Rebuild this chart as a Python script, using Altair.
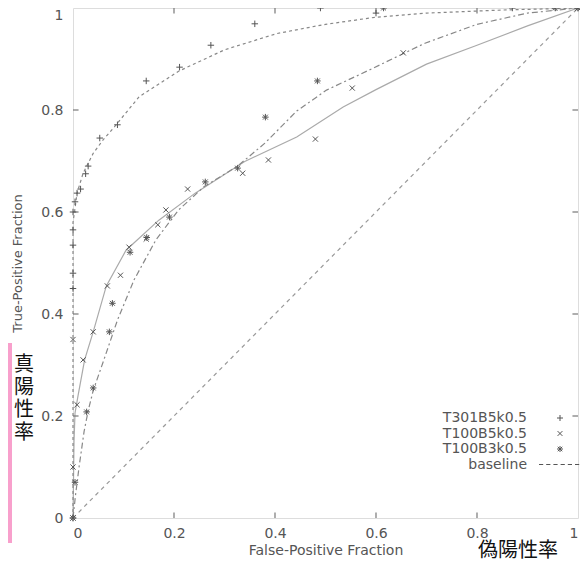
import altair as alt
import pandas as pd

# ---- data ----
plus_x = [0, 0, 0, 0, 0, 0, 0.004, 0.008, 0.015, 0.025, 0.03, 0.053, 0.088, 0.145, 0.211, 0.273, 0.36, 0.49, 0.6, 0.87, 1.0]
plus_y = [0, 0.45, 0.48, 0.535, 0.565, 0.60, 0.62, 0.637, 0.645, 0.675, 0.69, 0.745, 0.771, 0.857, 0.884, 0.927, 0.969, 1.0, 0.99, 1.0, 1.0]

cross_x = [0, 0, 0, 0.008, 0.02, 0.04, 0.068, 0.094, 0.111, 0.145, 0.168, 0.184, 0.227, 0.336, 0.387, 0.48, 0.553, 0.654, 1.0]
cross_y = [0, 0.1, 0.35, 0.222, 0.31, 0.365, 0.455, 0.476, 0.531, 0.547, 0.575, 0.604, 0.645, 0.676, 0.702, 0.743, 0.843, 0.912, 1.0]

star_x = [0, 0.004, 0.027, 0.04, 0.072, 0.078, 0.113, 0.146, 0.191, 0.262, 0.326, 0.381, 0.484, 0.615, 0.955, 1.0]
star_y = [0, 0.07, 0.208, 0.255, 0.365, 0.421, 0.521, 0.55, 0.59, 0.659, 0.686, 0.786, 0.857, 1.0, 1.0, 1.0]

fit1_x = [0, 0, 0.003, 0.008, 0.02, 0.04, 0.06, 0.082, 0.131, 0.209, 0.3, 0.404, 0.5, 0.6, 0.7, 0.85, 1.0]
fit1_y = [0, 0.58, 0.60, 0.637, 0.676, 0.715, 0.742, 0.767, 0.826, 0.876, 0.918, 0.95, 0.968, 0.982, 0.99, 0.996, 1.0]

fit2_x = [0, 0.002, 0.004, 0.01, 0.023, 0.04, 0.066, 0.105, 0.17, 0.242, 0.34, 0.443, 0.535, 0.6, 0.7, 0.8, 0.9, 1.0]
fit2_y = [0, 0.15, 0.206, 0.24, 0.31, 0.365, 0.455, 0.525, 0.584, 0.637, 0.699, 0.747, 0.806, 0.84, 0.89, 0.927, 0.965, 1.0]

fit3_x = [0, 0.005, 0.012, 0.022, 0.03, 0.04, 0.059, 0.088, 0.121, 0.164, 0.209, 0.26, 0.326, 0.38, 0.443, 0.502, 0.59, 0.697, 0.8, 0.9, 1.0]
fit3_y = [0, 0.045, 0.1, 0.17, 0.21, 0.25, 0.304, 0.388, 0.467, 0.545, 0.604, 0.65, 0.69, 0.735, 0.798, 0.839, 0.88, 0.931, 0.968, 0.99, 1.0]

base_x = [0, 1]
base_y = [0, 1]

series_names = ["T301B5k0.5", "T100B5k0.5", "T100B3k0.5", "baseline"]
tick_values = [0, 0.2, 0.4, 0.6, 0.8, 1]
inner_ticks = [0.2, 0.4, 0.6, 0.8]

# ---- styling ----
FONT = "DejaVu Sans"
TXT = "#555555"
PLUS = "M-1,0H1M0,-1V1"
CROSS = "M-0.8,-0.8L0.8,0.8M-0.8,0.8L0.8,-0.8"
STAR = "M-1,0H1M0,-1V1M-0.75,-0.75L0.75,0.75M-0.75,0.75L0.75,-0.75"
DASHLINE = "M-7,0H-5.6M-4.6,0H-3.2M-2.2,0H-0.8M0.2,0H1.6M2.6,0H4M5,0H6.4"

SC = alt.Scale(domain=[0, 1], nice=False, zero=False)
label_expr = "datum.value == 0 ? '0' : datum.value == 1 ? '1' : format(datum.value, '.1f')"
AX_X = alt.Axis(title="False-Positive Fraction", values=tick_values, labelExpr=label_expr,
                grid=False, ticks=False, domain=False, labelPadding=8, titlePadding=3,
                labelFont=FONT, labelFontSize=14, labelColor=TXT,
                titleFont=FONT, titleFontSize=14, titleColor=TXT, titleFontWeight="normal")
AX_Y = alt.Axis(title="True-Positive Fraction", values=tick_values, labelExpr=label_expr,
                grid=False, ticks=False, domain=False, labelPadding=10, titlePadding=16,
                labelOffset=alt.condition("datum.value == 1", alt.value(7), alt.value(0)),
                labelFont=FONT, labelFontSize=14, labelColor=TXT,
                titleFont=FONT, titleFontSize=13, titleColor=TXT, titleFontWeight="normal")


def X(f="x"):
    return alt.X(f"{f}:Q", scale=SC, axis=AX_X)


def Y(f="y"):
    return alt.Y(f"{f}:Q", scale=SC, axis=AX_Y)


def line_df(xs, ys):
    return pd.DataFrame({"x": xs, "y": ys, "i": list(range(len(xs)))})


pts = pd.concat([
    pd.DataFrame({"x": plus_x, "y": plus_y, "series": series_names[0]}),
    pd.DataFrame({"x": cross_x, "y": cross_y, "series": series_names[1]}),
    pd.DataFrame({"x": star_x, "y": star_y, "series": series_names[2]}),
], ignore_index=True)

points = alt.Chart(pts).mark_point(filled=False, size=42, strokeWidth=1, color="#555555", opacity=1).encode(
    x=X(), y=Y(),
    shape=alt.Shape("series:N",
                    scale=alt.Scale(domain=series_names, range=[PLUS, CROSS, STAR, DASHLINE]),
                    legend=alt.Legend(title=None, orient="none", legendX=480, legendY=403,
                                      labelAlign="right", labelOffset=alt.expr("-40"), labelFont=FONT,
                                      labelFontSize=14, labelColor=TXT, symbolSize=36,
                                      symbolStrokeWidth=1, symbolStrokeColor="#555555",
                                      symbolFillColor="transparent", padding=0, rowPadding=1.5)),
)

fit1 = alt.Chart(line_df(fit1_x, fit1_y)).mark_line(color="#888888", strokeWidth=1.2, strokeDash=[3, 3]).encode(
    x=X(), y=Y(), order="i:Q")
fit2 = alt.Chart(line_df(fit2_x, fit2_y)).mark_line(color="#aaaaaa", strokeWidth=1.2).encode(
    x=X(), y=Y(), order="i:Q")
fit3 = alt.Chart(line_df(fit3_x, fit3_y)).mark_line(color="#888888", strokeWidth=1.2, strokeDash=[6, 3, 2, 3]).encode(
    x=X(), y=Y(), order="i:Q")
base = alt.Chart(line_df(base_x, base_y)).mark_line(color="#999999", strokeWidth=1.2, strokeDash=[4, 4]).encode(
    x=X(), y=Y(), order="i:Q")

tk = pd.DataFrame({"v": inner_ticks})
tick_len = 0.011
bottom_t = alt.Chart(tk).transform_calculate(y="0", y2=str(tick_len)).mark_rule(color="#777777", strokeWidth=1.2).encode(
    x=alt.X("v:Q", scale=SC, axis=AX_X), y=Y(), y2="y2:Q")
top_t = alt.Chart(tk).transform_calculate(y="1", y2=str(1 - tick_len)).mark_rule(color="#777777", strokeWidth=1.2).encode(
    x=alt.X("v:Q", scale=SC, axis=AX_X), y=Y(), y2="y2:Q")
left_t = alt.Chart(tk).transform_calculate(x="0", x2=str(tick_len)).mark_rule(color="#777777", strokeWidth=1.2).encode(
    y=alt.Y("v:Q", scale=SC, axis=AX_Y), x=X(), x2="x2:Q")
right_t = alt.Chart(tk).transform_calculate(x="1", x2=str(1 - tick_len)).mark_rule(color="#777777", strokeWidth=1.2).encode(
    y=alt.Y("v:Q", scale=SC, axis=AX_Y), x=X(), x2="x2:Q")

one = pd.DataFrame({"k": [0]})
pink = alt.Chart(one).mark_rect(color="#f8a0cc").encode(
    x=alt.value(-73), x2=alt.value(-61), y=alt.value(335), y2=alt.value(535))
jp_left = alt.Chart(one).mark_text(font="Noto Sans CJK JP", fontSize=20, color="#111111",
                                   align="center", baseline="top", lineHeight=22.7).encode(
    x=alt.value(-49), y=alt.value(347), text=alt.value(["真", "陽", "性", "率"]))
jp_bottom = alt.Chart(one).mark_text(font="Noto Sans CJK JP", fontSize=20, color="#111111",
                                     align="left", baseline="bottom").encode(
    x=alt.value(405), y=alt.value(553), text=alt.value("偽陽性率"))

chart = alt.layer(base, fit2, fit3, fit1, bottom_t, top_t, left_t, right_t, points, pink, jp_left, jp_bottom).properties(
    width=505, height=510,
    autosize=alt.AutoSizeParams(type="none"),
    padding={"left": 65, "top": 0, "right": 2, "bottom": 44},
).configure_view(stroke="#777777", strokeWidth=1.6).configure(background="white")

chart.save("out.html", embed_options={"renderer": "svg", "actions": False})
